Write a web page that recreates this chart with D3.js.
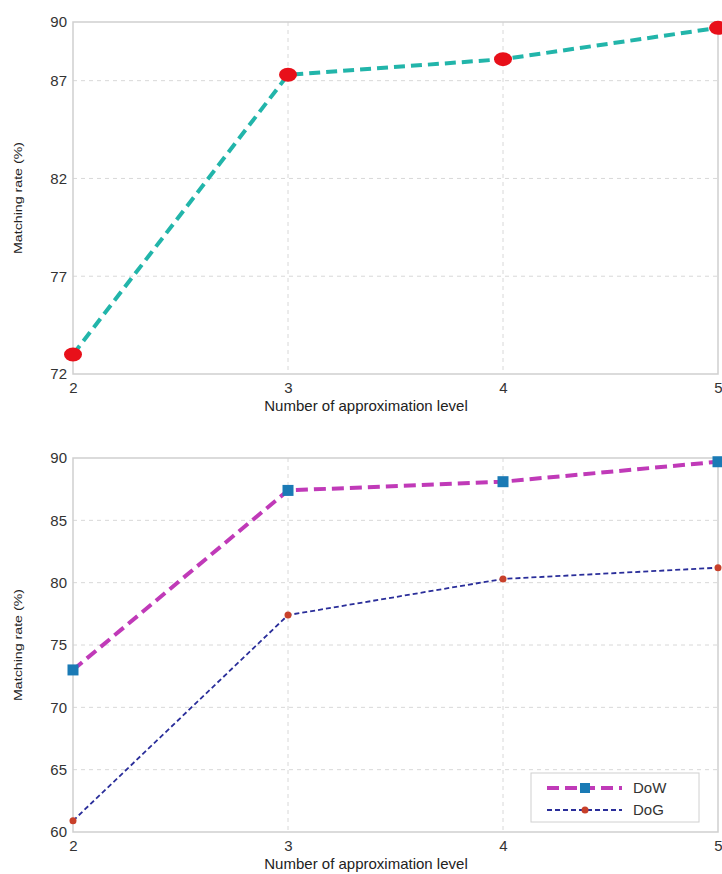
<!DOCTYPE html>
<html><head><meta charset="utf-8">
<script src="https://cdn.jsdelivr.net/npm/d3@7/dist/d3.min.js"></script>
<style>body{margin:0;background:#fff;} svg{display:block;}</style>
</head><body>
<svg id="c" width="722" height="874"></svg>
<script>
const levels = [2, 3, 4, 5];
const topRate = [73.0, 87.3, 88.1, 89.7];
const dowRate = [73.0, 87.4, 88.1, 89.7];
const dogRate = [60.9, 77.4, 80.3, 81.2];
const topYTicks = [72, 77, 82, 87, 90];
const botYTicks = [60, 65, 70, 75, 80, 85, 90];
const xLabel = "Number of approximation level";
const yLabel = "Matching rate (%)";
const legendNames = ["DoW", "DoG"];

const svg = d3.select("#c");
const font = "Liberation Sans, Arial, sans-serif";

function panel(top, bottom, yDomain, yTicks) {
  const g = svg.append("g");
  const x = d3.scaleLinear().domain([2, 5]).range([73, 718]);
  const y = d3.scaleLinear().domain(yDomain).range([bottom, top]);
  g.selectAll(".hg").data(yTicks.filter(t => t !== yDomain[0] && t !== yDomain[1])).join("line")
    .attr("x1", 73).attr("x2", 718).attr("y1", d => y(d)).attr("y2", d => y(d))
    .attr("stroke", "#d8d8d8").attr("stroke-width", 1).attr("stroke-dasharray", "4,4");
  g.selectAll(".vg").data(levels.filter(l => l !== 2 && l !== 5)).join("line")
    .attr("x1", d => x(d)).attr("x2", d => x(d)).attr("y1", top).attr("y2", bottom)
    .attr("stroke", "#d8d8d8").attr("stroke-width", 1).attr("stroke-dasharray", "4,4");
  g.append("rect").attr("x", 73).attr("y", top).attr("width", 718 - 73).attr("height", bottom - top)
    .attr("fill", "none").attr("stroke", "#cfcfcf").attr("stroke-width", 1.5);
  const ya = d3.axisLeft(y).tickValues(yTicks).tickSize(0).tickPadding(6);
  const yg = g.append("g").attr("transform", "translate(73,0)").call(ya);
  yg.select(".domain").remove();
  yg.selectAll("text").attr("font-family", font).attr("font-size", 15).attr("fill", "#333");
  const xa = d3.axisBottom(x).tickValues(levels).tickFormat(d3.format("d")).tickSize(0).tickPadding(8);
  const xg = g.append("g").attr("transform", `translate(0,${bottom})`).call(xa);
  xg.select(".domain").remove();
  xg.selectAll("text").attr("font-family", font).attr("font-size", 15).attr("fill", "#333");
  g.append("text").attr("x", 366).attr("y", bottom + 37).attr("text-anchor", "middle")
    .attr("font-family", font).attr("font-size", 15).attr("fill", "#222").text(xLabel);
  g.append("text").attr("transform", `translate(22,${(top + bottom) / 2}) rotate(-90)`)
    .attr("text-anchor", "middle").attr("font-family", font).attr("font-size", 10)
    .attr("textLength", 112).attr("lengthAdjust", "spacingAndGlyphs")
    .attr("fill", "#222").text(yLabel);
  return {g, x, y};
}

const p1 = panel(22, 374, [72, 90], topYTicks);
const line1 = d3.line().x((d, i) => p1.x(levels[i])).y(d => p1.y(d));
p1.g.append("path").datum(topRate).attr("d", line1).attr("fill", "none")
  .attr("stroke", "#22b5aa").attr("stroke-width", 4).attr("stroke-dasharray", "11,6");
p1.g.selectAll(".m1").data(topRate).join("ellipse")
  .attr("cx", (d, i) => p1.x(levels[i])).attr("cy", d => p1.y(d))
  .attr("rx", 9).attr("ry", 7).attr("fill", "#e8101a");

const p2 = panel(458, 832, [60, 90], botYTicks);
const line2 = d3.line().x((d, i) => p2.x(levels[i])).y(d => p2.y(d));
p2.g.append("path").datum(dowRate).attr("d", line2).attr("fill", "none")
  .attr("stroke", "#c03ab8").attr("stroke-width", 4).attr("stroke-dasharray", "12,6");
p2.g.append("path").datum(dogRate).attr("d", line2).attr("fill", "none")
  .attr("stroke", "#2a2e9a").attr("stroke-width", 1.8).attr("stroke-dasharray", "5,3");
p2.g.selectAll(".m2").data(dowRate).join("rect")
  .attr("x", (d, i) => p2.x(levels[i]) - 5.5).attr("y", d => p2.y(d) - 5.5)
  .attr("width", 11).attr("height", 11).attr("fill", "#1a7ab5");
p2.g.selectAll(".m3").data(dogRate).join("circle")
  .attr("cx", (d, i) => p2.x(levels[i])).attr("cy", d => p2.y(d))
  .attr("r", 3.5).attr("fill", "#c8402a");

const lg = svg.append("g");
lg.append("rect").attr("x", 531).attr("y", 773).attr("width", 168).attr("height", 49)
  .attr("fill", "#fff").attr("stroke", "#d0d0d0").attr("stroke-width", 1);
const legY = [788, 810];
lg.append("line").attr("x1", 547).attr("x2", 622).attr("y1", legY[0]).attr("y2", legY[0])
  .attr("stroke", "#c03ab8").attr("stroke-width", 4).attr("stroke-dasharray", "12,6");
lg.append("rect").attr("x", 580).attr("y", legY[0] - 5).attr("width", 10).attr("height", 10).attr("fill", "#1a7ab5");
lg.append("line").attr("x1", 547).attr("x2", 622).attr("y1", legY[1]).attr("y2", legY[1])
  .attr("stroke", "#2a2e9a").attr("stroke-width", 1.8).attr("stroke-dasharray", "5,3");
lg.append("circle").attr("cx", 585).attr("cy", legY[1]).attr("r", 3.5).attr("fill", "#c8402a");
lg.selectAll(".lt").data(legendNames).join("text")
  .attr("x", 633).attr("y", (d, i) => legY[i] + 5)
  .attr("font-family", font).attr("font-size", 15).attr("fill", "#333").text(d => d);
</script>
</body></html>
